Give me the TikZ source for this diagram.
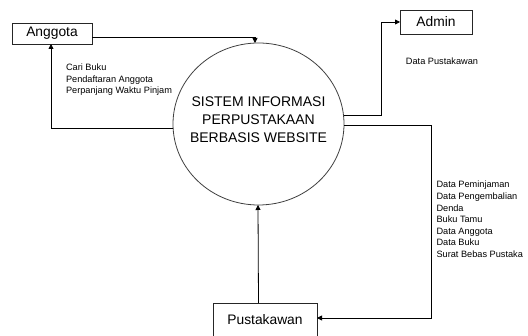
\documentclass[tikz,border=0pt]{standalone}
\usepackage{fontspec}
\setmainfont{Liberation Sans}
\usetikzlibrary{arrows.meta,shapes.geometric}
\begin{document}
\begin{tikzpicture}[x=1pt,y=-1pt,
  every node/.style={inner sep=0pt, outer sep=0pt},
  entity/.style={draw=black!85, line width=0.8pt, minimum height=21pt, font=\fontsize{13.8}{16}\selectfont},
  procbox/.style={draw=black!75, line width=0.8pt, ellipse, minimum width=171pt, minimum height=162pt},
  flowlabel/.style={font=\fontsize{9.2}{11.6}\selectfont, align=left},
  arr/.style={line width=0.8pt, -{Triangle[length=5pt,width=5pt]}}
]
\useasboundingbox (0,0) rectangle (528,336);
\node[entity, minimum width=80pt, minimum height=21pt] (ang) at (52,33.5) {Anggota};
\node[entity, minimum width=72pt, minimum height=24pt] (adm) at (436,22) {Admin};
\node[entity, minimum width=104pt, minimum height=33pt] (pus) at (265,319.5) {Pustakawan};
\node[procbox, label={[yshift=4.5pt, align=center, font=\fontsize{14}{17.8}\selectfont]center:SISTEM INFORMASI\\PERPUSTAKAAN\\BERBASIS WEBSITE}] (sys) at (258.5,124) {};

\draw[arr] ([yshift=-3.5pt]ang.east) -| ([xshift=-3.5pt]sys.north);
\draw[arr] ([yshift=-4pt]sys.west) -| ([xshift=-1pt]ang.south);
\draw[arr] ([yshift=8.3pt]sys.east) -- ++(37,0) |- (adm.west);
\draw[arr] ([yshift=-1.7pt]sys.east) -- ++(87,0) |- ([yshift=1.5pt]pus.east);
\draw[arr] ([xshift=-6.5pt]pus.north) -- ([xshift=-0.5pt]sys.south);

\node[flowlabel, anchor=north west] (lblang) at (66,64) {Cari Buku\\Pendaftaran Anggota\\Perpanjang Waktu Pinjam};
\node[flowlabel] (lbladm) at (442,61) {Data Pustakawan};
\node[flowlabel, anchor=west] (lblpus) at (436.5,219.5) {Data Peminjaman\\Data Pengembalian\\Denda\\Buku Tamu\\Data Anggota\\Data Buku\\Surat Bebas Pustaka};
\end{tikzpicture}
\end{document}
